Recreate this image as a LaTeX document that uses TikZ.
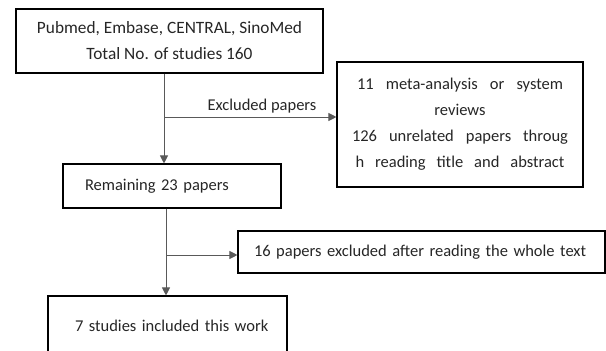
\documentclass[tikz,border=0pt]{standalone}
\usepackage{fontspec}
\setmainfont{Carlito}
\usepackage{tikz}
\usetikzlibrary{arrows.meta, positioning}

\tikzset{
  flowbox/.style={draw=black, line width=1.1pt, inner sep=0pt, font=\fontsize{16.5}{26}\selectfont, text=black!85},
  flowline/.style={draw=black!65, line width=0.9pt, -{Triangle[length=8pt,width=8pt]}}
}

\begin{document}
\begin{tikzpicture}[x=1pt, y=-1pt]
    \useasboundingbox (0,0) rectangle (606,351);

    % search
    \node[flowbox, font=\fontsize{17.3}{26}\selectfont, minimum width=307pt, minimum height=64pt, align=center] (search) at (169.5,41)
      {Pubmed, Embase, CENTRAL, SinoMed\\Total No. of studies 160};

    % first exclusion
    \node[flowbox, minimum width=246pt, minimum height=125pt, align=center] (excl1) at (460,124.5)
      {\makebox[206pt][s]{11 meta-analysis or system}\\reviews\\
       \makebox[216pt][s]{126 unrelated papers throug}\\\makebox[209pt][s]{h reading title and abstract}};

    % remaining
    \node[flowbox, minimum width=218pt, minimum height=44pt, inner xsep=22pt, text width=174pt, align=left] (remain) at (172,186)
      {\mbox{Remaining 23 papers}};

    % second exclusion
    \node[flowbox, minimum width=367pt, minimum height=42pt, inner xsep=16pt, text width=335pt, align=left] (excl2) at (421.5,252)
      {\mbox{16 papers excluded after reading the whole text}};

    % included
    \node[flowbox, minimum width=239pt, minimum height=60pt, inner xsep=27pt, text width=185pt, align=left] (incl) at (167.5,326)
      {\mbox{7 studies included this work}};

    % connectors
    \coordinate (split1) at (164,117);
    \coordinate (split2) at (166,255);

    \draw[flowline] (split1 |- search.south) -- (split1 |- remain.north);
    \draw[flowline] (split1) -- (split1 -| excl1.west);
    \node[font=\fontsize{16.5}{18}\selectfont, text=black!85] (exlabel) at (262,106) {Excluded papers};

    \draw[flowline] (split2 |- remain.south) -- (split2 |- incl.north);
    \draw[flowline] (split2) -- (split2 -| excl2.west);
\end{tikzpicture}
\end{document}
